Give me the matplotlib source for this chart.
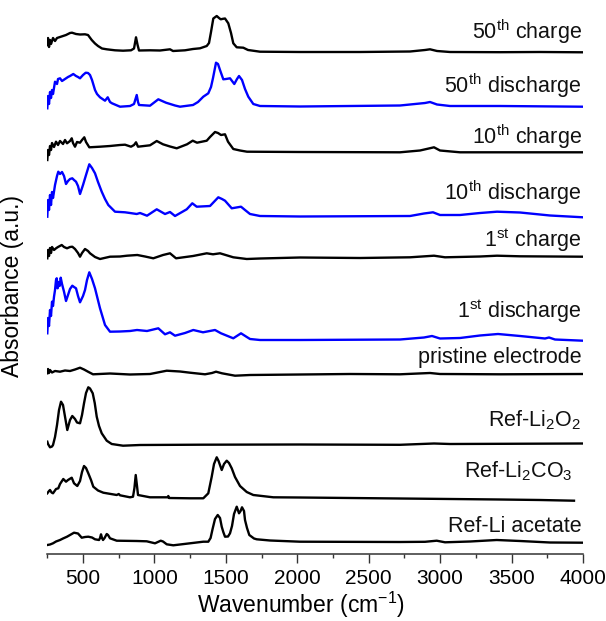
import matplotlib
matplotlib.use("Agg")
import matplotlib.pyplot as plt
from matplotlib.ticker import MultipleLocator
import numpy as np

plt.rcParams['font.family'] = ['Liberation Sans', 'DejaVu Sans']
plt.rcParams['mathtext.fontset'] = 'custom'
plt.rcParams['mathtext.rm'] = 'Liberation Sans'
plt.rcParams['mathtext.it'] = 'Liberation Sans:italic'
plt.rcParams['mathtext.bf'] = 'Liberation Sans:bold'

# ---- data: (wavenumber cm-1, absorbance a.u. relative to each trace baseline) ----
charge50 = [(250,7),(255,14),(262,5),(269,12),(276,8),(290,14),(304,11),(318,14),(339,15),(360,16),
            (381,17),(409,19),(423,19.3),(451,18),(479,17.5),(514,17.7),(535,17),(561,12),(584,8.5),(605,6),
            (633,3.5),(666,2.7),(724,1.7),(780,1.3),(836,1.7),(857,3.5),(871,14.7),(882,7),(892,1.5),(969,1.7),
            (1039,1.5),(1109,2.7),(1130,1),(1214,1.7),(1270,3),(1319,3.7),(1366,6),(1382,9),(1396,20),(1412,33.5),
            (1436,36),(1452,34),(1464,32.7),(1480,33.2),(1494,33.5),(1517,28.7),(1536,19),(1552,8.7),(1576,4.7),(1622,4.3),
            (1655,2),(1690,1.3),(1739,0.3),(2019,0),(2439,0),(2789,0.5),(2894,2),(2929,2.7),(2978,1),(3069,0),
            (3419,-0.2),(3699,0),(4000,-0.3)]

discharge50 = [(250,-2.3),(255,10),(262,2),(269,14),(276,8),(283,16),(290,12),(304,24.3),(318,22),(325,27),
               (339,27.7),(353,25),(374,27),(395,29),(409,30),(432,32),(451,30),(465,29),(479,27.7),(500,31),
               (519,33.3),(535,33),(549,31),(563,26),(584,16),(598,12),(619,8.7),(654,5.3),(673,8.7),(689,4),
               (703,2.7),(759,-0.7),(829,0),(857,2),(876,11),(885,4),(892,1),(969,0.3),(1027,6.7),(1081,3.3),
               (1144,0.5),(1179,-0.7),(1270,1),(1305,4),(1342,9.3),(1377,12.7),(1396,19),(1410,28),(1431,43.3),(1445,42),
               (1459,36),(1482,26.7),(1501,27),(1529,27.7),(1559,22),(1578,27),(1592,30),(1613,26),(1634,17),(1657,9.3),
               (1692,2),(1739,0),(2019,-0.5),(2719,0.5),(2894,3),(2929,4),(2978,1.5),(3069,0),(3419,0),(4000,-0.7)]

charge10 = [(250,-8),(255,2),(262,-3),(269,6),(276,2),(283,9),(297,5),(311,10.3),(325,7),(339,11),
            (360,8),(374,12),(388,8.7),(409,11),(421,13.7),(430,9),(444,5.3),(458,10),(479,9.3),(493,12),
            (509,14.7),(521,10),(544,4.7),(619,5.3),(689,6),(759,7),(794,7.3),(836,5.3),(857,7),(871,9.7),
            (885,5.3),(969,6.7),(1016,11),(1060,7.7),(1109,5.5),(1156,3.7),(1228,7.7),(1268,11.3),(1298,9.3),(1366,11.3),
            (1389,15),(1424,20),(1445,19),(1466,17),(1494,17.7),(1515,10.3),(1552,3),(1599,1.5),(1648,0.3),(2019,0),
            (2719,-0.3),(2859,1.5),(2957,4.7),(2999,1.5),(3139,-0.3),(4000,-0.3)]

discharge10 = [(250,0.3),(255,17),(262,7),(269,22),(276,12),(283,25),(290,19),(304,32),(318,41),(327,45.3),
               (339,43),(353,45),(367,41),(381,33),(395,36),(409,38),(425,38.7),(437,37),(451,35.3),(465,31),
               (479,23),(500,32),(521,42),(544,52.7),(563,49),(584,43.7),(605,35),(631,25.3),(654,18),(677,12),
               (724,5.3),(794,4.7),(829,4),(876,3),(899,4),(948,1.3),(1016,7.7),(1074,3),(1109,5),(1144,1),
               (1226,7.7),(1265,13.7),(1296,10.3),(1389,11),(1447,19.7),(1473,18),(1494,16.3),(1541,8.7),(1606,10.3),(1634,7),
               (1669,3),(1739,1),(2019,0.5),(2789,1),(2887,3.5),(2950,4.7),(2999,2),(3139,2),(3279,4),(3398,5.3),
               (3559,4.5),(3769,1.5),(4000,-0.3)]

charge1 = [(250,-1.3),(255,7),(262,1),(269,9),(276,4),(283,10),(297,7),(311,8.7),(325,10),(351,12),
           (367,10),(388,8.7),(409,10),(425,10.3),(444,8),(465,4),(479,0.3),(493,4),(514,8),(535,6),
           (549,3.7),(584,0),(619,-2),(689,0.3),(759,0.5),(808,1.3),(880,2),(934,0.5),(992,-1.3),(1060,2),
           (1109,3.7),(1151,-1.3),(1270,1),(1366,3.7),(1410,2.7),(1459,3.7),(1552,-0.3),(1646,-2),(1739,-1.5),(2019,-0.5),
           (2439,-1),(2789,-0.3),(2894,0.7),(2957,1.3),(3034,-0.3),(3279,0.5),(3398,1.3),(3559,0.7),(4000,0.3)]

discharge1 = [(250,6.7),(255,22),(262,14),(269,30),(276,24),(283,38.3),(290,34),(297,43.3),(304,50),(311,60),
              (316,61.7),(322,51.7),(329,58),(336,54),(344,62.3),(353,56),(367,48.3),(381,39),(395,45),(409,51),
              (425,54.3),(437,53),(451,51.7),(465,44),(479,37.7),(500,44),(514,50),(528,60),(544,67.7),(563,61),
              (584,51.7),(619,31.7),(654,15),(689,8.3),(759,8.5),(829,9),(878,10),(948,9),(1027,11.7),(1074,5.7),
              (1109,7.7),(1144,4.3),(1214,7),(1272,10),(1340,7.7),(1424,10),(1466,6.7),(1552,1.7),(1606,6.7),(1641,3.5),
              (1669,1),(1739,0),(2019,0),(2719,0.5),(2887,2.5),(2943,4),(2999,1.5),(3139,2),(3279,4.5),(3405,6),
              (3559,4),(3734,1.5),(3762,2.5),(3804,0.5),(4000,-0.7)]

pristine = [(250,0.7),(255,5),(262,1),(269,4),(283,1.5),(304,3),(339,2.3),(374,3.5),(409,3),(444,4.5),
            (479,6.3),(507,4.5),(535,2.3),(570,-0.3),(689,0.5),(829,-0.5),(969,0),(1086,3.3),(1179,2.5),(1249,1.3),
            (1354,-0.3),(1403,1),(1431,2.3),(1473,0.7),(1564,-1.7),(1669,-1),(2019,-0.5),(2369,0),(2719,-0.3),(2929,1),
            (2999,0),(3419,-0.3),(4000,0)]

ref_li2o2 = [(250,2.8),(255,0.5),(269,-2.8),(283,-2),(290,-0.5),(304,7.5),(318,19.5),(332,34.5),(346,42.8),(360,39.5),
             (374,27.8),(390,14.5),(409,24.5),(425,28.5),(444,25.5),(458,22),(479,21.2),(493,29.5),(507,41.2),(521,51.5),
             (537,57.2),(549,56),(568,51.2),(582,41.5),(596,27.8),(612,18.5),(631,11.2),(666,3.8),(701,0.5),(780,-1.2),
             (899,-0.5),(1319,-0.2),(2019,0),(2719,-0.3),(2957,1),(3069,0.5),(4000,1)]

ref_li2co3 = [(250,4.2),(262,6.5),(269,7.5),(280,5),(290,4.2),(311,8.5),(327,9.2),(339,13.5),(362,18.5),(381,15.8),
              (395,17.5),(421,19.8),(437,14.2),(460,11.5),(479,16.5),(493,25.5),(507,31.5),(521,29.5),(537,24.2),(556,17.5),
              (572,10.8),(605,7),(642,4.8),(736,2.5),(750,3.5),(759,2.2),(829,0.2),(850,0.8),(860,9.5),(869,22.5),
              (878,11.5),(885,2.5),(969,0.2),(1093,0.2),(1097,1.5),(1102,-0.5),(1249,-0.8),(1342,-0.8),(1377,4.2),(1401,20.8),
              (1417,33.5),(1436,40.2),(1449,36.5),(1471,27.5),(1487,33.5),(1506,36.8),(1522,34.5),(1541,29.2),(1564,20.5),(1599,11.5),
              (1646,5.5),(1692,2.5),(1832,0.2),(2019,0),(2369,-0.5),(2719,-1),(3069,-1.5),(3419,-2),(3699,-2.5),(3937,-3.2)]

ref_acetate = [(250,-3),(269,-2.5),(290,-1.3),(311,0.5),(339,2),(360,3.5),(388,5.3),(409,7),(437,9.3),(465,8.5),
               (491,4.3),(514,5),(537,5.3),(563,4.5),(584,2.7),(612,2),(619,4),(626,7.7),(633,4),(640,2),
               (651,4),(666,8),(675,7),(689,3.7),(736,1.3),(876,1),(946,0.7),(1004,-1.3),(1044,1.3),(1060,0.5),
               (1086,-2.3),(1132,-3.3),(1249,-1.3),(1342,0.3),(1377,0.3),(1393,4),(1407,13),(1424,23),(1443,27),(1459,24),
               (1471,15.3),(1482,10),(1494,5.3),(1515,5.5),(1529,8.7),(1543,16),(1557,28),(1576,35.3),(1592,28.7),(1603,31),
               (1613,34.7),(1627,31),(1634,22),(1648,14),(1664,7),(1697,3.5),(1716,2.7),(1809,1.5),(2019,0.3),(2719,0),
               (2894,0.2),(2976,1.3),(3034,-0.3),(3209,0.5),(3396,2),(3559,1),(3769,-0.5),(4000,-0.7)]

spectra = [charge50, discharge50, charge10, discharge10, charge1,
           discharge1, pristine, ref_li2o2, ref_li2co3, ref_acetate]
offsets = [502, 448, 402, 337, 297, 214, 180, 109.5, 56.5, 12]
colors = ['black', '#0000ff', 'black', '#0000ff', 'black',
          '#0000ff', 'black', 'black', 'black', 'black']
labels = ['50$^{\\rm th}$ charge', '50$^{\\rm th}$ discharge', '10$^{\\rm th}$ charge',
          '10$^{\\rm th}$ discharge', '1$^{\\rm st}$ charge', '1$^{\\rm st}$ discharge',
          'pristine electrode', 'Ref-Li$_{2}$O$_{2}$', 'Ref-Li$_{2}$CO$_{3}$', 'Ref-Li acetate']
label_x = [3990, 3990, 3990, 3990, 3990, 3990, 3990, 3990, 3930, 3990]
label_y = [515.5, 461.3, 409.7, 354, 307.3, 236.3, 190.7, 127.3, 76.7, 22.3]

W, H = 606, 621
fig = plt.figure(figsize=(W / 100, H / 100), dpi=100)
ax = fig.add_axes([47.3 / W, (H - 554) / H, (583 - 47.3) / W, 549 / H])

for spec, off, col in zip(spectra, offsets, colors):
    wn = np.array([p[0] for p in spec], dtype=float)
    ab = np.array([p[1] for p in spec], dtype=float)
    ax.plot(wn, ab + off, color=col, lw=1.7, solid_joinstyle='round')

for lab, lx, ly in zip(labels, label_x, label_y):
    ax.text(lx, ly, lab, ha='right', va='baseline', fontsize=15.5, color='#111111')

ax.set_xlim(250, 4000)
ax.set_ylim(0, 549)
for s in ['top', 'right', 'left']:
    ax.spines[s].set_visible(False)
ax.spines['bottom'].set_color('#333333')
ax.spines['bottom'].set_linewidth(1.1)
ax.set_yticks([])
ax.xaxis.set_major_locator(MultipleLocator(500))
ax.xaxis.set_minor_locator(MultipleLocator(250))
ax.tick_params(axis='x', which='major', length=6.5, width=1.0, color='#333333',
               labelsize=15, pad=4.5, direction='out')
ax.tick_params(axis='x', which='minor', length=3.2, width=1.0, color='#333333', direction='out')
ax.set_xlabel('Wavenumber (cm$^{-1}$)', fontsize=16.5)
ax.set_ylabel('Absorbance (a.u.)', fontsize=16.5)
ax.xaxis.set_label_coords(0.474, -0.066)
ax.yaxis.set_label_coords(-0.043, 0.488)

fig.savefig('out.png', dpi=100)
